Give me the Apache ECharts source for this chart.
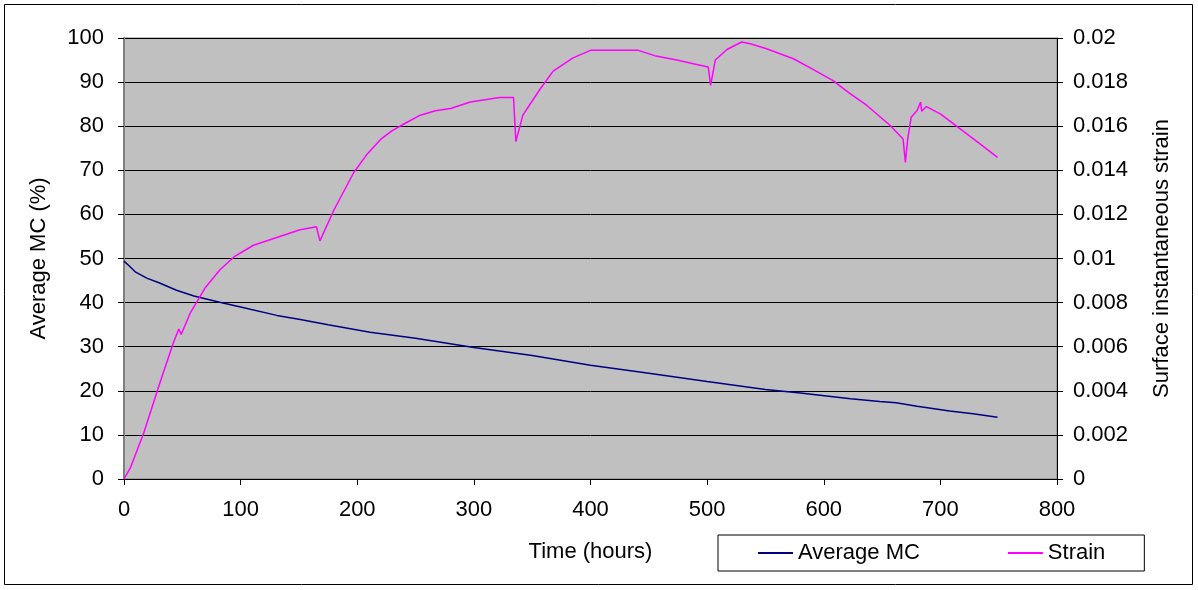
<!DOCTYPE html>
<html>
<head>
<meta charset="utf-8">
<script src="https://cdn.jsdelivr.net/npm/echarts@6/dist/echarts.min.js"></script>
<style>
  html, body { margin: 0; padding: 0; background: #fff; }
  #chart { width: 1198px; height: 590px; }
</style>
</head>
<body>
<div id="chart"></div>
<script>
// data
var mcHours = [0, 5, 10, 20, 30, 45, 60, 82, 100, 131, 150, 175, 211, 250, 300, 350, 400, 450, 500, 550, 580, 623, 648, 662, 680, 708, 728, 749];
var mcValues = [49.4, 48.2, 46.9, 45.5, 44.5, 42.8, 41.5, 40.1, 39.0, 37.1, 36.2, 35.0, 33.3, 31.9, 29.8, 28.0, 25.8, 24.0, 22.1, 20.3, 19.5, 18.2, 17.6, 17.3, 16.5, 15.4, 14.8, 14.0];

var strainHours = [0, 5.4, 17, 31, 42.5, 47, 49, 57, 70, 82.5, 95, 111, 131, 151, 165, 166.5, 168, 180, 197, 208, 220, 230, 240, 254, 267, 280, 297, 322, 334, 336, 342, 357, 368, 385, 400, 441, 455, 474, 491, 501, 503, 507, 517, 529.6, 537, 551, 574, 590, 608, 622, 637, 657, 668, 670, 672, 675, 680, 683, 684, 688, 700, 717, 734, 749];
var strainValues = [0, 0.0005, 0.0021, 0.0044, 0.0062, 0.0068, 0.00655, 0.00755, 0.0087, 0.0095, 0.0101, 0.0106, 0.01095, 0.0113, 0.01144, 0.01144, 0.0108, 0.0122, 0.0139, 0.0147, 0.0154, 0.0158, 0.0161, 0.0165, 0.0167, 0.0168, 0.0171, 0.0173, 0.0173, 0.0153, 0.0165, 0.0177, 0.0185, 0.0191, 0.01944, 0.01944, 0.0192, 0.0190, 0.0188, 0.01868, 0.01785, 0.0190, 0.01948, 0.01982, 0.01974, 0.01951, 0.01906, 0.0186, 0.01807, 0.0175, 0.01694, 0.01603, 0.01542, 0.01436, 0.01542, 0.01641, 0.01671, 0.01709, 0.01668, 0.01689, 0.01656, 0.01588, 0.0152, 0.01459];

var pairs = function(xs, ys){
	var out = [];
	for(var i = 0; i < xs.length; i++){
		out.push([xs[i], ys[i]]);
	}
	return out;
};

var font = 'Liberation Sans, Arial, sans-serif';
var myChart = echarts.init(document.getElementById('chart'));

var option = {
	backgroundColor: '#fff',
	animation: false,
	textStyle: { fontFamily: font },
	graphic: [{
		type: 'rect',
		shape: { x: 4.5, y: 4.5, width: 1188, height: 580 },
		style: { fill: 'none', stroke: '#000', lineWidth: 1 }
	}],
	grid: {
		left: 124, right: 141, top: 38, bottom: 111,
		show: true,
		backgroundColor: '#C0C0C0',
		borderColor: '#808080',
		borderWidth: 1
	},
	legend: {
		left: 718, top: 535,
		padding: [7, 39, 7, 40],
		itemGap: 88,
		itemWidth: 35, itemHeight: 2,
		icon: 'rect',
		borderColor: '#000', borderWidth: 1,
		backgroundColor: '#fff',
		textStyle: { fontFamily: font, fontSize: 22, color: '#000' },
		data: ['Average MC', 'Strain']
	},
	xAxis: {
		type: 'value',
		min: 0, max: 800, interval: 100,
		name: 'Time (hours)',
		nameLocation: 'middle',
		nameGap: 62,
		nameTextStyle: { fontFamily: font, fontSize: 22, color: '#000' },
		axisLine: { show: true, lineStyle: { color: '#000', width: 1 } },
		axisTick: { show: true, length: 6, lineStyle: { color: '#000' } },
		axisLabel: { margin: 20, fontSize: 22, color: '#000', fontFamily: font },
		splitLine: { show: false }
	},
	yAxis: [{
		type: 'value',
		min: 0, max: 100, interval: 10,
		name: 'Average MC (%)',
		nameLocation: 'middle',
		nameGap: 74,
		nameRotate: 90,
		nameTextStyle: { fontFamily: font, fontSize: 22, color: '#000' },
		axisLine: { show: true, lineStyle: { color: '#808080', width: 2 } },
		axisTick: { show: true, length: 6, lineStyle: { color: '#000' } },
		axisLabel: { margin: 20, fontSize: 22, color: '#000', fontFamily: font },
		splitLine: { show: true, lineStyle: { color: '#000', width: 1 } }
	}, {
		type: 'value',
		min: 0, max: 0.02, interval: 0.002,
		name: 'Surface instantaneous strain',
		nameLocation: 'middle',
		nameGap: 94,
		nameRotate: 90,
		nameTextStyle: { fontFamily: font, fontSize: 22, color: '#000' },
		axisLine: { show: true, lineStyle: { color: '#000', width: 1 } },
		axisTick: { show: true, length: 6, lineStyle: { color: '#000' } },
		axisLabel: { margin: 16, fontSize: 22, color: '#000', fontFamily: font },
		splitLine: { show: false }
	}],
	series: [{
		name: 'Average MC',
		type: 'line',
		yAxisIndex: 0,
		data: pairs(mcHours, mcValues),
		showSymbol: false,
		lineStyle: { color: '#000080', width: 1.5 },
		itemStyle: { color: '#000080' }
	}, {
		name: 'Strain',
		type: 'line',
		yAxisIndex: 1,
		data: pairs(strainHours, strainValues),
		showSymbol: false,
		lineStyle: { color: '#FF00FF', width: 1.5 },
		itemStyle: { color: '#FF00FF' }
	}]
};

myChart.setOption(option);
</script>
</body>
</html>
